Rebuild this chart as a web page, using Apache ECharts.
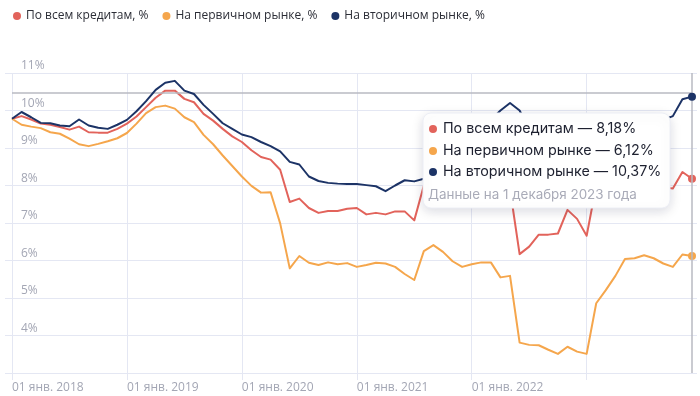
<!DOCTYPE html>
<html><head><meta charset="utf-8">
<script src="https://cdn.jsdelivr.net/npm/echarts@6/dist/echarts.min.js"></script>
<style>html,body{margin:0;padding:0;background:#fff}#c{width:700px;height:396px}</style>
</head><body><div id="c"></div>
<script>
// ---- data ----
const years = [2018, 2019, 2020, 2021, 2022, 2023];
const tickLabels = ['01 янв. 2018', '01 янв. 2019', '01 янв. 2020', '01 янв. 2021', '01 янв. 2022', ''];
const seriesNames = ['По всем кредитам, %', 'На первичном рынке, %', 'На вторичном рынке, %'];
const tooltipNames = ['По всем кредитам', 'На первичном рынке', 'На вторичном рынке'];
const tooltipNote = 'Данные на 1 декабря 2023 года';
const allLoans = [
  9.78, 9.85, 9.76, 9.65, 9.62, 9.56, 9.49, 9.57, 9.42, 9.41, 9.41, 9.51,
  9.65, 9.84, 10.09, 10.34, 10.53, 10.53, 10.31, 10.22, 9.91, 9.73, 9.51, 9.31,
  9.16, 8.94, 8.76, 8.69, 8.42, 7.56, 7.65, 7.40, 7.27, 7.32, 7.32, 7.38,
  7.40, 7.23, 7.27, 7.23, 7.31, 7.31, 7.07, 8.00, 7.95, 7.95, 8.00, 8.10,
  8.20, 8.45, 8.70, 8.40, 7.90, 6.17, 6.37, 6.69, 6.69, 6.72, 7.35, 7.11,
  6.66, 8.00, 8.10, 8.00, 7.95, 8.00, 8.05, 8.00, 7.95, 7.92, 8.36, 8.18
];
const primary = [
  9.78, 9.62, 9.57, 9.53, 9.42, 9.38, 9.25, 9.10, 9.05, 9.11, 9.18, 9.26,
  9.40, 9.65, 9.93, 10.09, 10.13, 10.05, 9.82, 9.69, 9.35, 9.10, 8.80, 8.52,
  8.24, 7.99, 7.81, 7.82, 6.99, 5.79, 6.12, 5.94, 5.88, 5.95, 5.90, 5.93,
  5.83, 5.88, 5.94, 5.92, 5.83, 5.64, 5.48, 6.25, 6.41, 6.23, 5.98, 5.83,
  5.90, 5.95, 5.95, 5.55, 5.59, 3.81, 3.75, 3.74, 3.62, 3.51, 3.70, 3.57,
  3.51, 4.86, 5.21, 5.59, 6.04, 6.06, 6.14, 6.06, 5.92, 5.83, 6.16, 6.12
];
const secondary = [
  9.78, 9.96, 9.82, 9.67, 9.66, 9.60, 9.58, 9.76, 9.60, 9.54, 9.51, 9.62,
  9.75, 9.98, 10.25, 10.55, 10.74, 10.79, 10.53, 10.44, 10.15, 9.91, 9.66, 9.51,
  9.36, 9.29, 9.16, 9.05, 8.91, 8.63, 8.56, 8.24, 8.12, 8.07, 8.05, 8.04,
  8.04, 8.01, 7.98, 7.85, 8.00, 8.14, 8.11, 8.18, 8.30, 8.50, 8.70, 8.90,
  9.20, 9.40, 9.75, 10.00, 10.20, 10.00, 9.50, 9.30, 9.30, 9.40, 9.50, 9.40,
  9.30, 9.50, 9.60, 9.50, 9.55, 9.60, 9.65, 9.70, 9.75, 9.85, 10.30, 10.37
];
const crossValue = 10.48; // hover crosshair level
const colors = ['#e2635b', '#f5a64c', '#1c3366'];

// ---- build ----
const categories = [];
years.forEach(y => { for (let m = 1; m <= 12; m++) categories.push(y + '-' + (m < 10 ? '0' + m : m)); });
const fmt = v => v.toFixed(2).replace('.', ',');
function withEndDot(arr, color) {
  return arr.map((v, i) => i === arr.length - 1
    ? { value: v, symbol: 'circle', symbolSize: 8, itemStyle: { color: color } }
    : v);
}
const chart = echarts.init(document.getElementById('c'), null, { renderer: 'canvas' });
const lineSeries = [allLoans, primary, secondary].map((arr, k) => ({
  name: seriesNames[k], type: 'line', xAxisIndex: 0, yAxisIndex: 0,
  data: withEndDot(arr, colors[k]), symbol: 'none', showSymbol: true,
  lineStyle: { width: 2, color: colors[k], join: 'round' },
  itemStyle: { color: colors[k] }, z: 3 + k,
  emphasis: { disabled: true }, animation: false
}));
lineSeries[2].markLine = {
  silent: true, symbol: 'none', animation: false,
  label: { show: false },
  lineStyle: { color: '#b9bac2', width: 1.5, type: 'solid' },
  data: [{ yAxis: crossValue }, { xAxis: categories[categories.length - 1] }]
};
const lastIdx = allLoans.length - 1;
const ttLines = [allLoans[lastIdx], primary[lastIdx], secondary[lastIdx]].map((v, k) => tooltipNames[k] + ' — ' + fmt(v) + '%');
const ttFont = '14.3px Inter';
const Z = 200;
const ttChildren = [
  { type: 'rect', z: Z, zlevel: 1, shape: { x: 0, y: 0, width: 247, height: 95, r: 8 },
    style: { fill: '#ffffff', stroke: '#eceef5', lineWidth: 1, shadowBlur: 12, shadowOffsetY: 3, shadowColor: 'rgba(30,40,80,0.16)' } }
];
[16, 38, 59].forEach((yy, k) => {
  ttChildren.push({ type: 'circle', z: Z + 1, zlevel: 1, shape: { cx: 10, cy: yy, r: 4 }, style: { fill: colors[k] } });
  ttChildren.push({ type: 'text', z: Z + 1, zlevel: 1, x: 20, y: yy, style: { text: ttLines[k], font: ttFont, fill: '#1e2130', verticalAlign: 'middle' } });
});
ttChildren.push({ type: 'text', z: Z + 1, zlevel: 1, x: 5, y: 82, style: { text: tooltipNote, font: '13.4px Inter', fill: '#a9abb8', verticalAlign: 'middle' } });

chart.setOption({
  animation: false,
  textStyle: { fontFamily: 'Open Sans' },
  color: colors,
  legend: {
    left: 8, top: 5, icon: 'circle', itemWidth: 8, itemHeight: 8, itemGap: 14,
    textStyle: { fontSize: 12, color: '#2b2d36', fontFamily: 'Open Sans', padding: [0, 0, 0, 0] },
    data: seriesNames, selectedMode: false
  },
  grid: [
    { left: 12, right: 8, top: 73, bottom: 23 },
    { left: 5, right: 3, top: 73, bottom: 23 }
  ],
  xAxis: [
    { type: 'category', gridIndex: 0, data: categories, boundaryGap: false,
      axisLine: { show: false },
      axisTick: { show: true, interval: 11, length: 7, lineStyle: { color: '#e4e7f3' } },
      axisLabel: { interval: 11, align: 'left', margin: 9, fontSize: 12, color: '#a3a6b4', fontFamily: 'Open Sans',
        formatter: (v, i) => tickLabels[Math.floor(i / 12)] || '' },
      splitLine: { show: true, interval: 11, lineStyle: { color: '#e4e7f3', width: 1 } } },
    { type: 'value', gridIndex: 1, show: false, min: 0, max: 1 }
  ],
  yAxis: [
    { type: 'value', gridIndex: 0, min: 3, max: 11, interval: 1, show: false, splitLine: { show: false } },
    { type: 'value', gridIndex: 1, min: 3, max: 11, interval: 1,
      axisLine: { show: false }, axisTick: { show: false },
      axisLabel: { inside: true, margin: 16, fontSize: 12, color: '#a3a6b4', fontFamily: 'Open Sans',
        verticalAlign: 'bottom', lineHeight: 14, showMinLabel: false, formatter: v => v + '%' },
      splitLine: { lineStyle: { color: '#e4e7f3', width: 1 } } }
  ],
  series: lineSeries,
  graphic: [{ type: 'group', x: 423, y: 113, z: Z, zlevel: 1, children: ttChildren }]
});
</script></body></html>
